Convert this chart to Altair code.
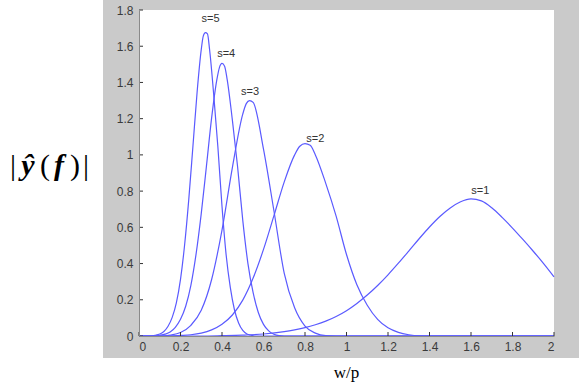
import altair as alt
import pandas as pd

# Magnitude of the wavelet spectrum |y^(f)| against w/p for scales s = 1..5
x_s1 = [0, 0.3, 0.4, 0.5, 0.6, 0.7, 0.75, 0.8, 0.85, 0.9, 0.95, 1.0, 1.05, 1.1,
        1.15, 1.2, 1.25, 1.3, 1.35, 1.4, 1.45, 1.5, 1.55, 1.6, 1.65, 1.7, 1.75,
        1.8, 1.85, 1.9, 1.95, 2.0]
y_s1 = [0, 0, 0.002, 0.005, 0.011, 0.024, 0.034, 0.046, 0.062, 0.082, 0.108,
        0.14, 0.18, 0.226, 0.279, 0.338, 0.402, 0.469, 0.537, 0.602, 0.66,
        0.707, 0.741, 0.757, 0.746, 0.708, 0.655, 0.596, 0.533, 0.468, 0.40,
        0.327]

x_s2 = [0, 0.15, 0.2, 0.25, 0.3, 0.35, 0.4, 0.45, 0.5, 0.55, 0.6, 0.65, 0.7,
        0.75, 0.775, 0.8, 0.825, 0.85, 0.9, 0.95, 1.0, 1.05, 1.1, 1.15, 1.2,
        1.25, 1.3, 1.35, 1.4, 2.0]
y_s2 = [0, 0, 0.003, 0.007, 0.016, 0.034, 0.065, 0.116, 0.198, 0.32, 0.478,
        0.663, 0.851, 1.0, 1.048, 1.062, 1.053, 1.0, 0.843, 0.662, 0.45,
        0.283, 0.17, 0.092, 0.045, 0.02, 0.007, 0.001, 0, 0]

x_s3 = [0, 0.1, 0.15, 0.2, 0.25, 0.3, 0.35, 0.4, 0.45, 0.5, 0.517, 0.533,
        0.55, 0.6, 0.65, 0.7, 0.75, 0.8, 0.85, 0.9, 0.95, 2.0]
y_s3 = [0, 0, 0.005, 0.019, 0.059, 0.142, 0.312, 0.585, 0.93, 1.225, 1.283,
        1.30, 1.29, 1.032, 0.693, 0.346, 0.156, 0.055, 0.016, 0.002, 0, 0]

x_s4 = [0, 0.075, 0.1, 0.125, 0.15, 0.175, 0.2, 0.225, 0.25, 0.275, 0.3, 0.325,
        0.35, 0.375, 0.3875, 0.4, 0.4125, 0.425, 0.45, 0.475, 0.5, 0.525, 0.55,
        0.575, 0.6, 0.625, 0.65, 0.675, 0.7, 2.0]
y_s4 = [0, 0, 0.004, 0.01, 0.022, 0.048, 0.092, 0.164, 0.28, 0.452, 0.676,
        0.938, 1.204, 1.414, 1.482, 1.505, 1.49, 1.416, 1.192, 0.936, 0.64,
        0.40, 0.24, 0.13, 0.064, 0.028, 0.01, 0.002, 0, 0]

x_s5 = [0, 0.06, 0.08, 0.1, 0.12, 0.14, 0.16, 0.18, 0.2, 0.22, 0.24, 0.26,
        0.28, 0.3, 0.31, 0.32, 0.33, 0.34, 0.36, 0.38, 0.4, 0.42, 0.44, 0.46,
        0.48, 0.5, 0.52, 0.54, 0.56, 2.0]
y_s5 = [0, 0, 0.004, 0.011, 0.025, 0.054, 0.103, 0.183, 0.313, 0.505, 0.756,
        1.049, 1.346, 1.581, 1.657, 1.675, 1.668, 1.583, 1.333, 1.046, 0.716,
        0.447, 0.268, 0.145, 0.072, 0.031, 0.011, 0.004, 0, 0]

# Peak annotations
label_text = ["s=1", "s=2", "s=3", "s=4", "s=5"]
label_x = [1.645, 0.85, 0.535, 0.42, 0.345]
label_y = [0.80, 1.09, 1.35, 1.555, 1.75]

x_ticks = [0, 0.2, 0.4, 0.6, 0.8, 1.0, 1.2, 1.4, 1.6, 1.8, 2.0]
y_ticks = [0, 0.2, 0.4, 0.6, 0.8, 1.0, 1.2, 1.4, 1.6, 1.8]

rows = []
for name, xs, ys in [("s=1", x_s1, y_s1), ("s=2", x_s2, y_s2),
                     ("s=3", x_s3, y_s3), ("s=4", x_s4, y_s4),
                     ("s=5", x_s5, y_s5)]:
    for a, b in zip(xs, ys):
        rows.append({"scale": name, "w": a, "amp": b})
curves = pd.DataFrame(rows)
labels = pd.DataFrame({"txt": label_text, "w": label_x, "amp": label_y})

W, H = 415, 326
LEFT, TOP = 139, 10
xsc = alt.Scale(domain=[0, 2], nice=False, zero=False)
ysc = alt.Scale(domain=[0, 1.8], nice=False, zero=False)
one = pd.DataFrame({"k": [0]})

axis_common = dict(title=None, ticks=False, grid=False, format="~g",
                   domainColor="#8a8a8a", domainWidth=1,
                   labelColor="#3a3a3a", labelFont="Liberation Sans",
                   labelFontSize=12, labelOverlap=False, labelBound=False,
                   zindex=1)
x_axis = alt.Axis(values=x_ticks, labelPadding=5, **axis_common)
y_axis = alt.Axis(values=y_ticks, labelPadding=6, **axis_common)

# grey figure panel and white axes box
panel = alt.Chart(one).mark_rect(color="#cacaca").encode(
    x=alt.value(103 - LEFT), x2=alt.value(579 - LEFT),
    y=alt.value(0 - TOP), y2=alt.value(358 - TOP))
box = alt.Chart(one).mark_rect(color="white").encode(
    x=alt.value(0), x2=alt.value(W), y=alt.value(0), y2=alt.value(H))

lines = alt.Chart(curves).mark_line(
    color="#5a5aff", strokeWidth=1.2, interpolate="monotone"
).encode(
    x=alt.X("w:Q", scale=xsc, axis=x_axis),
    y=alt.Y("amp:Q", scale=ysc, axis=y_axis),
    detail="scale:N",
)

tick_df_x = pd.DataFrame({"w": x_ticks})
tick_df_y = pd.DataFrame({"amp": y_ticks})
xt = alt.Chart(tick_df_x).mark_rule(color="#333333", strokeWidth=1).encode(
    x=alt.X("w:Q", scale=xsc, axis=x_axis), y=alt.value(H), y2=alt.value(H - 4))
yt = alt.Chart(tick_df_y).mark_rule(color="#333333", strokeWidth=1).encode(
    y=alt.Y("amp:Q", scale=ysc, axis=y_axis), x=alt.value(0), x2=alt.value(4))

peak_labels = alt.Chart(labels).mark_text(
    font="Liberation Sans", fontSize=11, color="#333333",
    align="center", baseline="middle"
).encode(x=alt.X("w:Q", scale=xsc, axis=x_axis),
         y=alt.Y("amp:Q", scale=ysc, axis=y_axis), text="txt:N")

xlabel = alt.Chart(one).mark_text(
    text="w/p", font="Liberation Serif", fontSize=17, color="black",
    align="center", baseline="alphabetic"
).encode(x=alt.value(346.5 - LEFT), y=alt.value(378 - TOP))

# |y^(f)| built from pieces: bars/parens upright, symbols bold italic
def piece(txt, cx, bold):
    return alt.Chart(one).mark_text(
        text=txt, font="Liberation Serif", fontSize=30, color="black",
        fontStyle="italic" if bold else "normal",
        fontWeight="bold" if bold else "normal",
        align="center", baseline="alphabetic"
    ).encode(x=alt.value(cx - LEFT), y=alt.value(175 - TOP))

ylabel = [piece("|", 13, False), piece("ŷ", 28, True), piece("(", 45, False),
          piece("f", 59, True), piece(")", 75, False), piece("|", 86, False)]

chart = alt.layer(
    panel, box, lines, xt, yt, peak_labels, xlabel, *ylabel
).properties(
    width=W, height=H, background="white",
    autosize=alt.AutoSizeParams(type="none"),
    padding={"left": LEFT, "top": TOP, "right": 579 - LEFT - W,
             "bottom": 387 - TOP - H},
).configure_view(strokeWidth=0).configure_axis(labelOverlap=False)

chart.save("out.html", embed_options={"renderer": "svg", "actions": False})
